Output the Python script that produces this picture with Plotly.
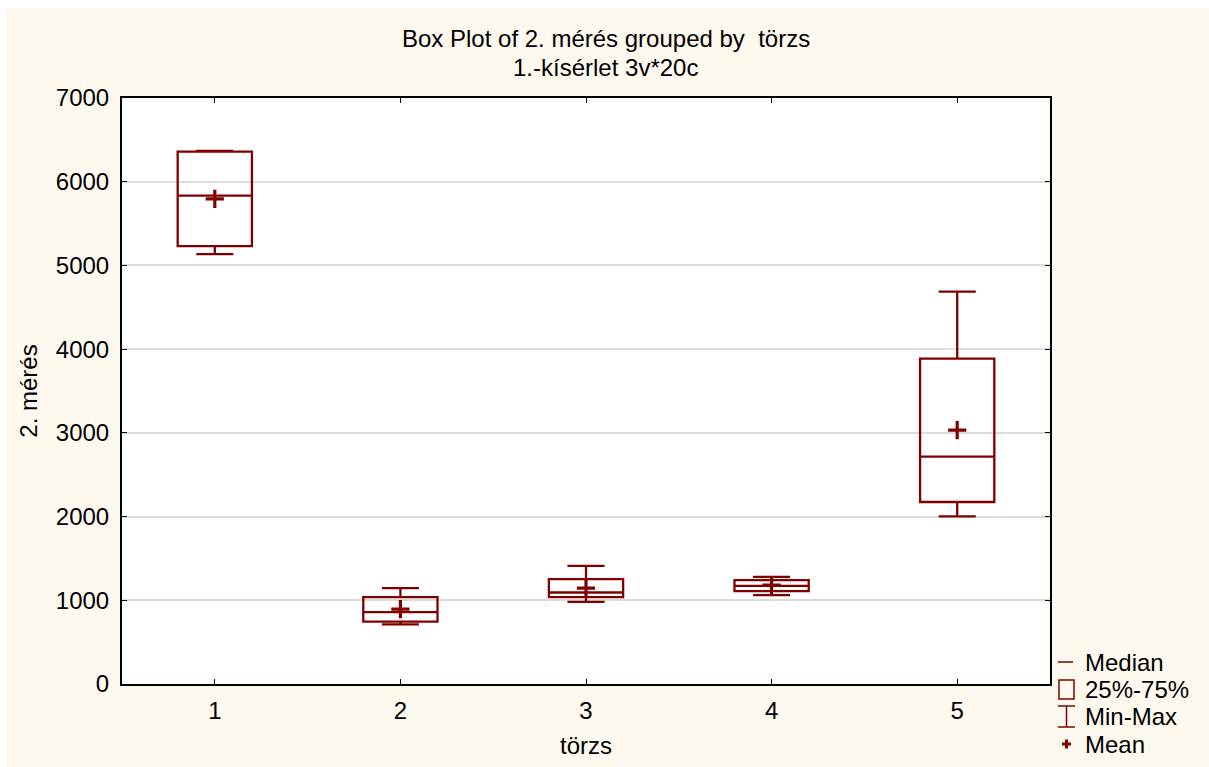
import plotly.graph_objects as go

categories = [1, 2, 3, 4, 5]
q1_vals = [5230, 745, 1037, 1109, 2174]
median_vals = [5835, 859, 1093, 1172, 2715]
q3_vals = [6359, 1037, 1252, 1240, 3887]
min_vals = [5136, 712, 981, 1061, 2003]
max_vals = [6368, 1145, 1411, 1279, 4686]
mean_vals = [5795, 894, 1145, 1181, 3033]
y_ticks = [0, 1000, 2000, 3000, 4000, 5000, 6000, 7000]
legend_labels = ["Median", "25%-75%", "Min-Max", "Mean"]

RED = "#800000"
CREAM = "#FDF9EE"
FONT = "Liberation Sans, Arial, sans-serif"
FS = 24

W, H = 1209, 767
L, R, T, B = 122, 159, 98, 83
PW, PH = W - L - R, H - T - B


def px(x):
    return (x - L) / PW


def py(y):
    return (H - B - y) / PH


fig = go.Figure()
fig.add_trace(go.Box(
    x=categories, q1=q1_vals, median=median_vals, q3=q3_vals,
    lowerfence=min_vals, upperfence=max_vals,
    width=0.4, whiskerwidth=0.5,
    line=dict(color=RED, width=2.3), fillcolor="rgba(0,0,0,0)",
    boxpoints=False, showlegend=False, hoverinfo="skip",
))
fig.add_trace(go.Scatter(
    x=categories, y=mean_vals, mode="markers",
    marker=dict(symbol="cross-thin", size=13, line=dict(color=RED, width=3.2), color=RED),
    showlegend=False, hoverinfo="skip",
))

shapes = [
    dict(type="rect", xref="paper", yref="paper", x0=px(6), x1=px(1215), y0=py(775), y1=py(8),
         fillcolor=CREAM, line=dict(width=0), layer="below"),
    dict(type="rect", xref="paper", yref="paper", x0=0, x1=1, y0=0, y1=1,
         fillcolor="white", line=dict(width=0), layer="below"),
]
# custom legend icons
lc = dict(color=RED, width=1.5)
shapes += [
    dict(type="line", xref="paper", yref="paper", x0=px(1058), x1=px(1073), y0=py(662), y1=py(662), line=lc),
    dict(type="rect", xref="paper", yref="paper", x0=px(1059), x1=px(1074), y0=py(699), y1=py(680), line=lc),
    dict(type="line", xref="paper", yref="paper", x0=px(1058), x1=px(1075), y0=py(706), y1=py(706), line=lc),
    dict(type="line", xref="paper", yref="paper", x0=px(1058), x1=px(1075), y0=py(727), y1=py(727), line=lc),
    dict(type="line", xref="paper", yref="paper", x0=px(1066.5), x1=px(1066.5), y0=py(706), y1=py(727), line=lc),
    dict(type="line", xref="paper", yref="paper", x0=px(1062), x1=px(1071), y0=py(744), y1=py(744), line=dict(color=RED, width=3)),
    dict(type="line", xref="paper", yref="paper", x0=px(1066.5), x1=px(1066.5), y0=py(739.5), y1=py(748.5), line=dict(color=RED, width=3)),
]

annotations = [
    dict(text="Box Plot of 2. mérés grouped by \u00a0törzs", xref="paper", yref="paper",
         x=px(606), y=py(38), showarrow=False, xanchor="center", yanchor="middle",
         font=dict(size=FS, color="black", family=FONT)),
    dict(text="1.-kísérlet 3v*20c", xref="paper", yref="paper",
         x=px(605), y=py(68), showarrow=False, xanchor="center", yanchor="middle",
         font=dict(size=FS, color="black", family=FONT)),
]
for lab, yy in zip(legend_labels, [662, 689, 716, 744]):
    annotations.append(dict(text=lab, xref="paper", yref="paper", x=px(1083), y=py(yy),
                            showarrow=False, xanchor="left", yanchor="middle",
                            font=dict(size=FS, color="black", family=FONT)))

fig.update_layout(
    width=W, height=H,
    margin=dict(l=L, r=R, t=T, b=B),
    paper_bgcolor="white", plot_bgcolor="white",
    font=dict(family=FONT, size=FS, color="black"),
    shapes=shapes, annotations=annotations,
    xaxis=dict(range=[0.5, 5.5], tickvals=categories, ticktext=[str(c) for c in categories],
               showgrid=False, zeroline=False, showline=True, linecolor="black", linewidth=2,
               mirror="ticks", ticks="inside", ticklen=5, tickcolor="black", tickwidth=1,
               ticklabelstandoff=4,
               title=dict(text="törzs", font=dict(size=FS), standoff=14)),
    yaxis=dict(range=[0, 7000], tickvals=y_ticks, showgrid=True, gridcolor="#DCDCDC", gridwidth=2,
               zeroline=False, showline=True, linecolor="black", linewidth=2,
               mirror="ticks", ticks="inside", ticklen=5, tickcolor="black", tickwidth=1,
               ticklabelstandoff=6,
               title=dict(text="2. mérés", font=dict(size=FS), standoff=11)),
)

fig.write_html("out.html", config={"displayModeBar": False},
               post_script="document.body.style.margin='0';")
